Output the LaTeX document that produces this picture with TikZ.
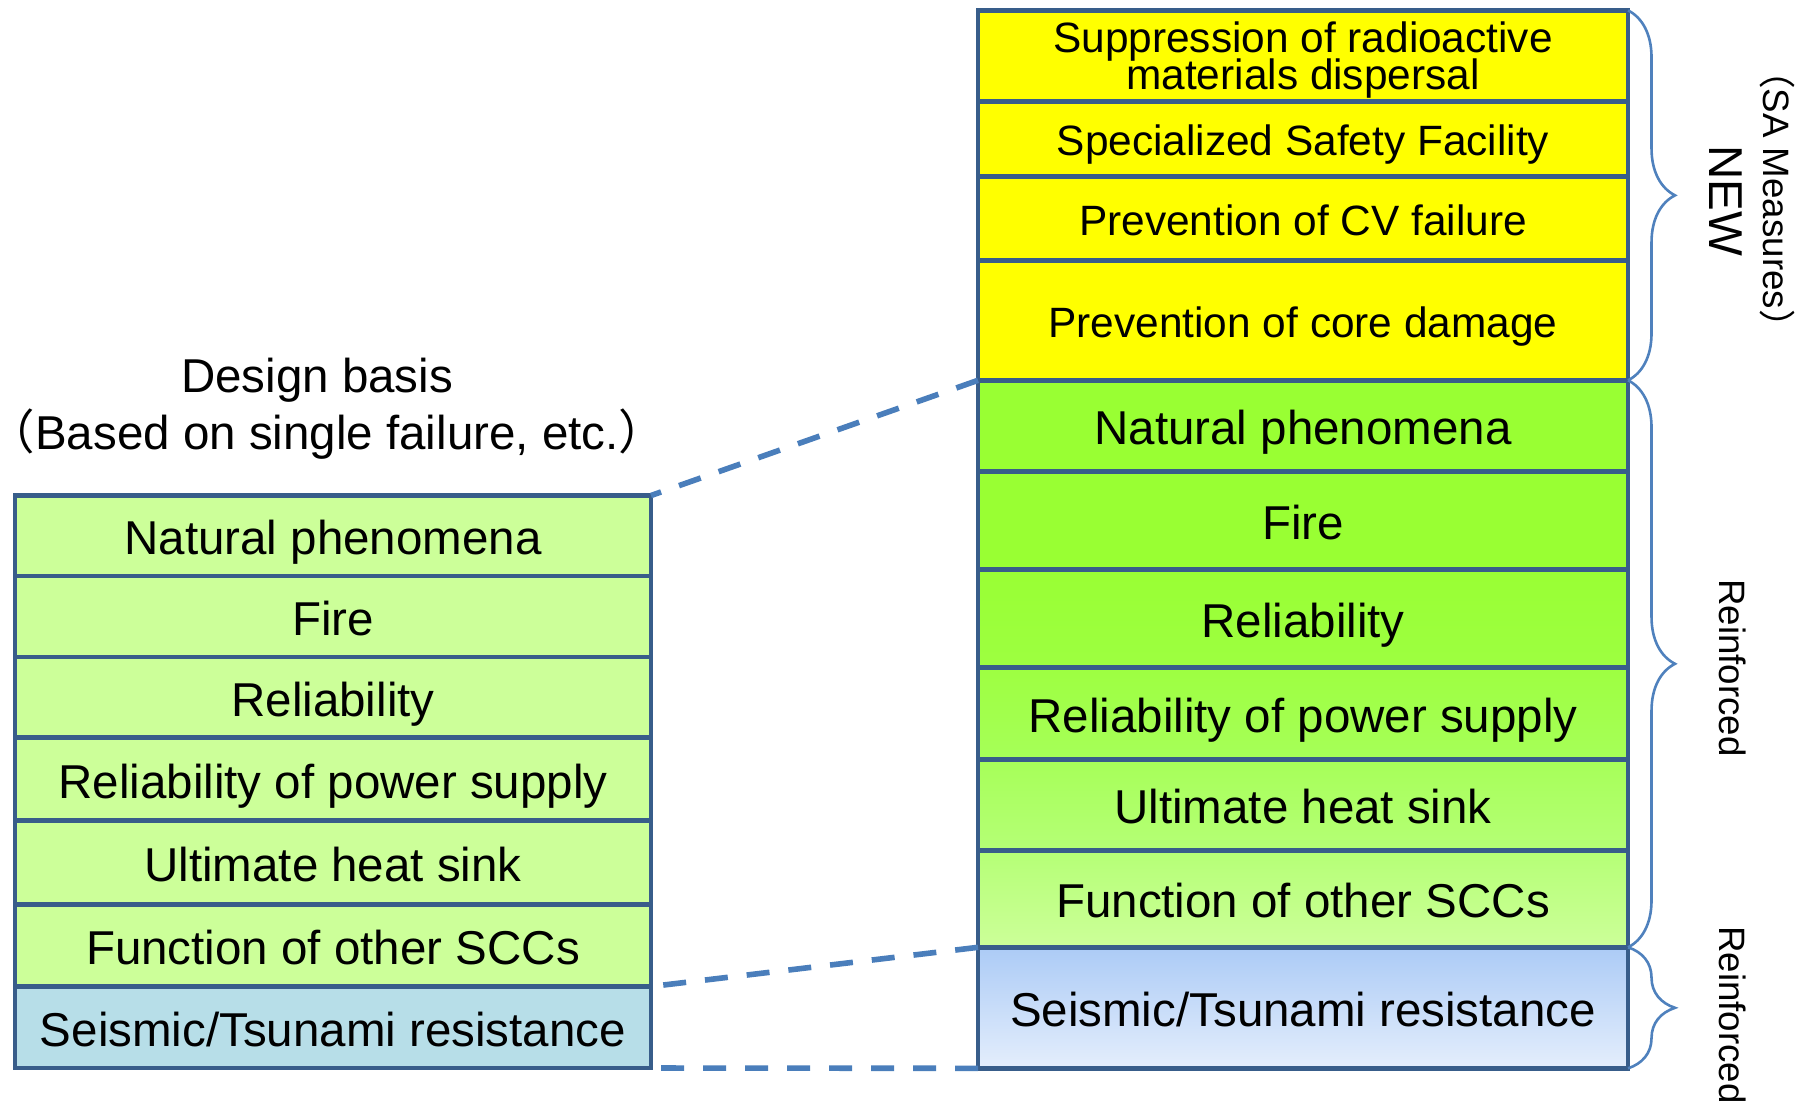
\documentclass[tikz,border=0pt]{standalone}
\usepackage{fontspec}
\setmainfont{Liberation Sans}
\newfontfamily\cjkfont{Noto Sans CJK JP}
\usetikzlibrary{decorations.pathreplacing}
\definecolor{bordc}{HTML}{385D8A}
\definecolor{dashc}{HTML}{4A7EBB}
\definecolor{bracec}{HTML}{4F81BD}
\definecolor{yel}{HTML}{FFFF00}
\definecolor{lgreen}{HTML}{CCFF99}
\definecolor{lblue}{HTML}{B7DEE8}
\definecolor{gT}{HTML}{99FF33}
\definecolor{gA}{HTML}{9DFF40}
\definecolor{gB}{HTML}{A6FF57}
\definecolor{gC}{HTML}{B4FF74}
\definecolor{gD}{HTML}{CCFF99}
\definecolor{bT}{HTML}{ACCBF6}
\definecolor{bB}{HTML}{E4EEFC}
\pgfdeclareverticalshading{greenfade}{100bp}{color(0bp)=(gD); color(25bp)=(gD); color(34bp)=(gC); color(42bp)=(gB); color(50bp)=(gA); color(59bp)=(gT); color(100bp)=(gT)}
\pgfdeclarelayer{bg}
\pgfsetlayers{bg,main}
\newcommand\fmain{\fontsize{23.75}{28}\selectfont}
\newcommand\fyel{\fontsize{21.2}{18.9}\selectfont\lineskiplimit=-50pt\lineskip=0pt}
\newcommand\fside{\fontsize{18.35}{22}\selectfont}
\newcommand\lpar{\makebox[0.5em][r]{\cjkfont （}}
\newcommand\rpar{\makebox[0.5em][l]{\cjkfont ）}}
\tikzset{
  cellbase/.style={draw=bordc, line width=2.4pt, inner sep=0pt, outer sep=0pt},
  rc/.style={cellbase, minimum width=325pt},
  lc/.style={cellbase, minimum width=318pt, fill=lgreen},
  tm/.style={font=\fmain, text height=21.4pt, text depth=2.4pt},
  ty/.style={font=\fyel, text height=19.1pt, text depth=2.1pt},
  ts/.style={font=\fside, text height=16.5pt, text depth=1.8pt},
  dsh/.style={draw=dashc, line width=2.8pt, dash pattern=on 11.5pt off 9.5pt},
  brc/.style={draw=bracec, line width=1.3pt, decorate, decoration={brace, amplitude=23.5pt}}
}
\begin{document}
\begin{tikzpicture}[x=0.5pt,y=-0.5pt]
\useasboundingbox (0,0) rectangle (1807,1105);

% right column
\node[rc, fill=yel, minimum height=45.5pt, font=\fyel, align=center] (r1) at (1303,55.9) {\rule{0pt}{19.4pt}Suppression of radioactive\\materials dispersal};
\node[rc, ty, fill=yel, minimum height=37.45pt] (r2) at (1303,138.85) {Specialized Safety Facility};
\node[rc, ty, fill=yel, minimum height=42.05pt] (r3) at (1303,218.35) {Prevention of CV failure};
\node[rc, ty, fill=yel, minimum height=59.95pt] (r4) at (1303,320.35) {Prevention of core damage};
\node[rc, tm, minimum height=45.5pt] (g1) at (1303,425.8) {Natural phenomena};
\node[rc, tm, minimum height=49pt] (g2) at (1303,520.3) {Fire};
\node[rc, tm, minimum height=48.95pt] (g3) at (1303,618.25) {Reliability};
\node[rc, tm, minimum height=46.1pt] (g4) at (1303,713.3) {Reliability of power supply};
\node[rc, tm, minimum height=45.55pt] (g5) at (1303,804.95) {Ultimate heat sink};
\node[rc, tm, minimum height=48.4pt] (g6) at (1303,898.9) {Function of other SCCs};
\node[rc, tm, top color=bT, bottom color=bB, minimum height=60.5pt] (rs) at (1303,1007.8) {Seismic/Tsunami resistance};
\begin{pgfonlayer}{bg}
\fill[shading=greenfade] (g1.north west) rectangle (g6.south east);
\end{pgfonlayer}

% left column
\node[lc, tm, minimum height=40.25pt] (l1) at (333,535.75) {Natural phenomena};
\node[lc, tm, minimum height=40.5pt] (l2) at (333,616.5) {Fire};
\node[lc, tm, minimum height=40.25pt] (l3) at (333,697.25) {Reliability};
\node[lc, tm, minimum height=41.5pt] (l4) at (333,779) {Reliability of power supply};
\node[lc, tm, minimum height=42.05pt] (l5) at (333,862.55) {Ultimate heat sink};
\node[lc, tm, minimum height=40.95pt] (l6) at (333,945.55) {Function of other SCCs};
\node[lc, tm, fill=lblue, minimum height=40.75pt] (ls) at (333,1027.25) {Seismic/Tsunami resistance};

% titles
\node[font=\fmain, anchor=base] (t1) at (317,392) {Design basis};
\node[font=\fmain, anchor=base] (t2) at (327,449) {\lpar Based on single failure, etc.\rpar};

% connectors
\draw[dsh] (g1.north west) -- (l1.north east);
\draw[dsh] (rs.north west) -- (ls.north east);
\draw[dsh] (rs.south west) -- (ls.south east);

% braces
\draw[brc] (r1.north east) -- (r4.south east);
\draw[brc] (g1.north east) -- (g6.south east);
\draw[brc] (rs.north east) -- (rs.south east);

% side labels
\node[tm, rotate=-90] (new) at (1728,201) {NEW};
\node[ts, rotate=-90] (sam) at (1778,199) {{\cjkfont （}SA Measures{\cjkfont ）}};
\node[ts, rotate=-90] (re1) at (1734,668) {Reinforced};
\node[ts, rotate=-90] (re2) at (1734,1015) {Reinforced};
\end{tikzpicture}
\end{document}
